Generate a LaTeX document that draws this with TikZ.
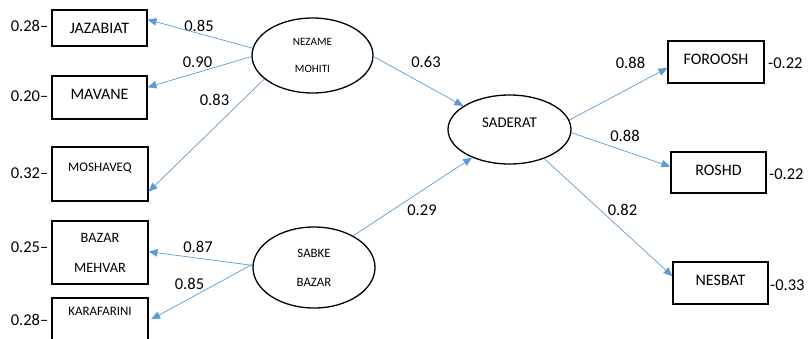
\documentclass[tikz,border=0pt]{standalone}
\usepackage{fontspec}
\setmainfont{Carlito}
\usetikzlibrary{arrows.meta,shapes.geometric}
\definecolor{pathblue}{RGB}{91,155,213}
\begin{document}
\begin{tikzpicture}[x=1pt,y=-1pt,
    ind/.style={draw,line width=1.1pt,inner sep=0pt,minimum width=95pt,font=\fontsize{16}{19}\selectfont},
    lat/.style={draw,ellipse,line width=1.3pt,inner sep=0pt,align=center},
    coef/.style={inner sep=0pt,font=\fontsize{16.5}{19}\selectfont},
    load/.style={pathblue,line width=0.7pt,-{Triangle[length=9pt,width=7.5pt]}}]
    \useasboundingbox (0,0) rectangle (809,338);
    \clip (0,0) rectangle (809,338);
    \node (jaz) [ind,minimum height=36pt,text height=10pt,text depth=0pt] at (99.5,28) {JAZABIAT};
    \node (mav) [ind,minimum height=43pt,text height=10pt,text depth=7pt] at (99.5,97.5) {MAVANE};
    \node (mos) [ind,minimum width=96pt,minimum height=54pt,text height=8.4pt,text depth=13pt,font=\fontsize{13.1}{16}\selectfont] at (100,174) {MOSHAVEQ};
    \node (bm) [ind,minimum width=96pt,minimum height=63pt,align=center,font=\fontsize{14.3}{17}\selectfont] at (100,252.5) {BAZAR\\[13pt]MEHVAR};
    \node (kar) [ind,minimum width=96pt,minimum height=54pt,text height=8.3pt,text depth=27pt,font=\fontsize{12.9}{15}\selectfont] at (100,325) {KARAFARINI};
    \node (nez) [lat,minimum width=121pt,minimum height=75pt,font=\fontsize{11.2}{13.4}\selectfont] at (312.5,55.5) {NEZAME\\[13.9pt]MOHITI};
    \node (sad) [lat,minimum width=123pt,minimum height=69pt,text height=9.6pt,text depth=14.6pt,font=\fontsize{14.9}{18}\selectfont] at (509.5,129.5) {SADERAT};
    \node (sab) [lat,minimum width=122pt,minimum height=81pt,font=\fontsize{12.8}{15.4}\selectfont] at (314,267.5) {SABKE\\[13.6pt]BAZAR};
    \node (foo) [ind,minimum width=96pt,minimum height=42pt,text height=10pt,text depth=5.4pt] at (716,62) {FOROOSH};
    \node (ros) [ind,minimum height=41pt,text height=10pt,text depth=5pt] at (718.5,172.5) {ROSHD};
    \node (nes) [ind,minimum height=42pt,text height=10pt,text depth=6pt] at (720.5,283) {NESBAT};
    \node (ejaz) [coef,anchor=east] at (48.5,25.7) {0.28--};
    \node (emav) [coef,anchor=east] at (48.5,96.2) {0.20--};
    \node (emos) [coef,anchor=east] at (48.5,173.3) {0.32--};
    \node (ebm) [coef,anchor=east] at (48.5,247) {0.25--};
    \node (ekar) [coef,anchor=east] at (48.5,320) {0.28--};
    \node (efoo) [coef,anchor=west] at (768,62.8) {-0.22};
    \node (eros) [coef,anchor=west] at (769,173.8) {-0.22};
    \node (enes) [coef,anchor=west] at (770,285) {-0.33};
    \node (cjaz) [coef] at (199,25.5) {0.85};
    \node (cmav) [coef] at (197.5,62.5) {0.90};
    \node (cmos) [coef] at (214.5,99.5) {0.83};
    \node (cnez) [coef] at (426,62) {0.63};
    \node (csab) [coef] at (422,210) {0.29};
    \node (cbm) [coef] at (198,247) {0.87};
    \node (ckar) [coef] at (189.5,283.7) {0.85};
    \node (cfoo) [coef] at (630.5,62.5) {0.88};
    \node (cros) [coef] at (625,136) {0.88};
    \node (cnes) [coef] at (622.5,210) {0.82};
    \draw[load] (nez.173) -- (jaz.10);
    \draw[load] (nez.181) -- (mav.12);
    \draw[load] (nez.206) -- (mos.-20);
    \draw[load] (nez.-1) -- (sad.153);
    \draw[load] (sab.39) -- (sad.217);
    \draw[load] (sab.178) -- (bm.1);
    \draw[load,shorten >=3pt] (sab.177) -- (kar.5);
    \draw[load] (sad.9) -- (foo.187);
    \draw[load] (sad.-3) -- (ros.173);
    \draw[load] (sad.-40) -- (nes.172);
\end{tikzpicture}
\end{document}
